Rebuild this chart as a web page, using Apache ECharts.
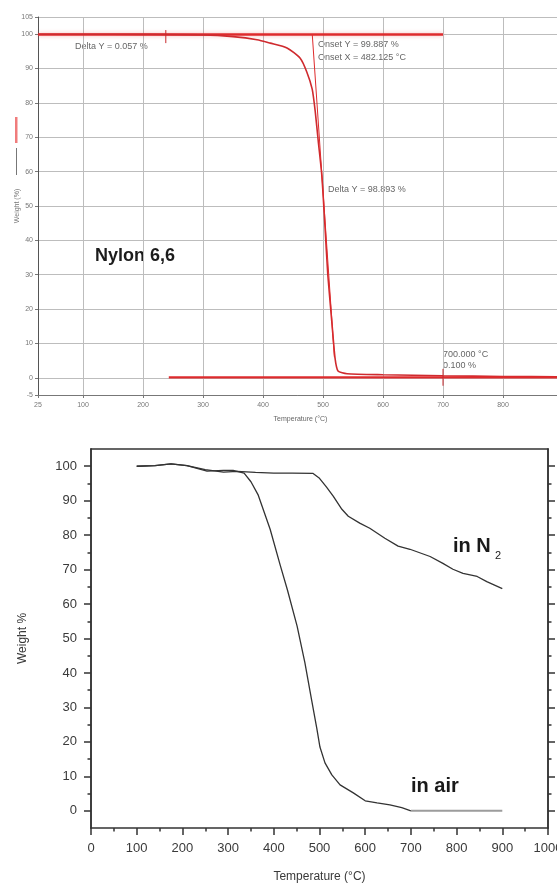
<!DOCTYPE html>
<html>
<head>
<meta charset="utf-8">
<script src="https://cdn.jsdelivr.net/npm/echarts@6/dist/echarts.min.js"></script>
<style>
  html, body { margin: 0; padding: 0; background: #fff; }
  #chart { width: 557px; height: 884px; }
</style>
</head>
<body>
<div id="chart"></div>
<script>
// ---- top panel : Nylon 6,6 TGA (red instrument plot)
const nylonTemp   = [25, 100, 200, 300, 350, 390, 412, 440, 462, 473, 482, 487, 492, 498, 503, 508, 515, 520, 525, 540, 600, 700, 800, 900];
const nylonWeight = [100, 100, 99.95, 99.8, 99.3, 98.4, 97.4, 96, 93, 89, 84, 77.6, 69, 59, 45, 30, 15.7, 5.8, 2, 1.2, 0.9, 0.6, 0.4, 0.3];
const baselineTemp = [25, 700];
const baselineWeight = [99.887, 99.887];
const tangentTemp = [482.125, 519];
const tangentWeight = [99.887, 6];
const residueTemp = [243, 900];
const residueWeight = [0.1, 0.1];
const markerTemp = [238, 700];
const markerLow = [97.4, -2.3];
const markerHigh = [101.2, 2.6];
const topXTicks = [25, 100, 200, 300, 400, 500, 600, 700, 800, 900];
const topYTicks = [-5, 0, 10, 20, 30, 40, 50, 60, 70, 80, 90, 100, 105];

// ---- bottom panel : in N2 / in air
const n2Temp   = [100, 140, 175, 210, 250, 290, 320, 360, 400, 440, 486, 500, 515, 530, 549, 563, 588, 610, 643, 672, 698, 742, 770, 792, 814, 845, 866, 900];
const n2Weight = [100, 100.2, 100.7, 100.2, 99, 98.3, 98.5, 98.2, 98, 98, 97.9, 96.5, 94, 91.3, 87.5, 85.5, 83.5, 82, 79.1, 76.8, 75.9, 73.8, 71.8, 70.1, 68.9, 68, 66.5, 64.5];
const airTemp   = [100, 140, 175, 210, 254, 290, 311, 335, 350, 366, 392, 414, 430, 451, 468, 483, 494, 501, 512, 527, 545, 574, 600, 626, 654, 680, 700, 800, 900];
const airWeight = [100, 100.2, 100.7, 100.2, 98.6, 98.8, 98.8, 98, 95.5, 91.6, 81.7, 71.3, 64, 53.6, 43, 32, 24, 18.5, 13.9, 10.4, 7.5, 5.2, 2.9, 2.3, 1.7, 0.9, 0, 0, 0];
const bottomYTicks = [0, 10, 20, 30, 40, 50, 60, 70, 80, 90, 100];
const bottomYMinor = [5, 15, 25, 35, 45, 55, 65, 75, 85, 95];

const FONT = '"Liberation Sans", Arial, sans-serif';
const zip = (xs, ys) => xs.map((x, i) => [x, ys[i]]);

const chart = echarts.init(document.getElementById('chart'));

const red = '#de2a2c';
const axisDark = '#333';

function bottomY(position, ticks, len, labels) {
  return {
    gridIndex: 1, type: 'value', position: position, min: -5, max: 105,
    axisLine: { show: true, onZero: false, lineStyle: { color: axisDark, width: 1.5 } },
    axisTick: { show: true, inside: false, customValues: ticks, length: len, lineStyle: { color: axisDark, width: 1.5 } },
    axisLabel: labels ? { customValues: ticks, fontSize: 13, color: '#3a3a3a', margin: 14, fontFamily: FONT } : { show: false },
    splitLine: { show: false }
  };
}

const option = {
  animation: false,
  backgroundColor: '#fff',
  grid: [
    { left: 38, top: 17, width: 525, height: 378, outerBoundsMode: 'none', containLabel: false },
    { left: 91, top: 449, width: 457, height: 379, outerBoundsMode: 'none', containLabel: false }
  ],
  xAxis: [
    {
      gridIndex: 0, type: 'value', min: 25, max: 900,
      axisLine: { onZero: false, lineStyle: { color: '#777', width: 1 } },
      axisTick: { show: true, customValues: topXTicks, length: 3, lineStyle: { color: '#777' } },
      axisLabel: { customValues: topXTicks, fontSize: 7, color: '#777', margin: 7, fontFamily: FONT },
      splitLine: { show: true, lineStyle: { color: '#bdbdbd', width: 1 } },
      name: 'Temperature (°C)', nameLocation: 'middle', nameGap: 21, nameMoveOverlap: false,
      nameTextStyle: { fontSize: 7, color: '#666', fontFamily: FONT }
    },
    {
      gridIndex: 1, type: 'value', position: 'bottom', min: 0, max: 1000, interval: 100,
      axisLine: { onZero: false, lineStyle: { color: axisDark, width: 1.5 } },
      axisTick: { length: 7, lineStyle: { color: axisDark, width: 1.5 } },
      minorTick: { show: true, splitNumber: 2, length: 3.5, lineStyle: { color: axisDark, width: 1.5 } },
      axisLabel: { fontSize: 13, color: '#3a3a3a', margin: 14, fontFamily: FONT, formatter: v => String(v) },
      splitLine: { show: false },
      name: 'Temperature (°C)', nameLocation: 'middle', nameGap: 43, nameMoveOverlap: false,
      nameTextStyle: { fontSize: 12, color: '#3a3a3a', fontFamily: FONT }
    },
    {
      gridIndex: 1, type: 'value', position: 'top', min: 0, max: 1000,
      axisLine: { onZero: false, lineStyle: { color: axisDark, width: 1.5 } },
      axisTick: { show: false }, axisLabel: { show: false }, splitLine: { show: false }
    }
  ],
  yAxis: [
    {
      gridIndex: 0, type: 'value', min: -5, max: 105,
      axisLine: { show: true, onZero: false, lineStyle: { color: '#555', width: 1 } },
      axisTick: { show: true, customValues: topYTicks, length: 3, lineStyle: { color: '#777' } },
      axisLabel: { customValues: topYTicks, fontSize: 7, color: '#777', margin: 5, fontFamily: FONT },
      splitLine: { show: true, lineStyle: { color: '#bdbdbd', width: 1 } },
      name: 'Weight (%)', nameLocation: 'middle', nameGap: 17, nameMoveOverlap: false,
      nameTextStyle: { fontSize: 7, color: '#777', fontFamily: FONT }
    },
    Object.assign(bottomY('left', bottomYTicks, 7, true), {
      name: 'Weight %', nameLocation: 'middle', nameGap: 62, nameMoveOverlap: false,
      nameTextStyle: { fontSize: 12, color: '#3a3a3a', fontFamily: FONT }
    }),
    bottomY('left', bottomYMinor, 3.5, false),
    bottomY('right', bottomYTicks, 7, false),
    bottomY('right', bottomYMinor, 3.5, false)
  ],
  series: [
    {
      name: 'baseline', type: 'line', xAxisIndex: 0, yAxisIndex: 0, symbol: 'none',
      data: zip(baselineTemp, baselineWeight),
      lineStyle: { color: red, width: 2.5, shadowColor: 'rgba(240,80,80,0.45)', shadowBlur: 4 }
    },
    {
      name: 'Nylon 6,6', type: 'line', xAxisIndex: 0, yAxisIndex: 0, symbol: 'none', smooth: 0.2,
      data: zip(nylonTemp, nylonWeight),
      lineStyle: { color: '#cf2a2e', width: 1.6 }
    },
    {
      name: 'tangent', type: 'line', xAxisIndex: 0, yAxisIndex: 0, symbol: 'none',
      data: zip(tangentTemp, tangentWeight),
      lineStyle: { color: red, width: 1 }
    },
    {
      name: 'residue', type: 'line', xAxisIndex: 0, yAxisIndex: 0, symbol: 'none',
      data: zip(residueTemp, residueWeight),
      lineStyle: { color: red, width: 2.2 }
    },
    ...markerTemp.map((t, i) => ({
      name: 'marker' + i, type: 'line', xAxisIndex: 0, yAxisIndex: 0, symbol: 'none',
      data: [[t, markerLow[i]], [t, markerHigh[i]]],
      lineStyle: { color: '#c8282c', width: 1 }
    })),
    {
      name: 'in N2', type: 'line', xAxisIndex: 1, yAxisIndex: 1, symbol: 'none',
      data: zip(n2Temp, n2Weight),
      lineStyle: { color: '#333', width: 1.3 }
    },
    {
      name: 'in air', type: 'line', xAxisIndex: 1, yAxisIndex: 1, symbol: 'none',
      data: zip(airTemp, airWeight).filter(p => p[0] <= 700),
      lineStyle: { color: '#333', width: 1.3 }
    },
    {
      name: 'in air tail', type: 'line', xAxisIndex: 1, yAxisIndex: 1, symbol: 'none',
      data: zip(airTemp, airWeight).filter(p => p[0] >= 700),
      lineStyle: { color: '#9c9c9c', width: 2.2 }
    }
  ],
  graphic: [
    // axis-title swatch on the top panel
    { type: 'rect', shape: { x: 15, y: 117, width: 2.5, height: 26 }, style: { fill: '#f07c7c' } },
    { type: 'line', shape: { x1: 16.5, y1: 148, x2: 16.5, y2: 175 }, style: { stroke: '#777', lineWidth: 1 } },
    { type: 'text', left: 95, top: 247, style: { text: 'Nylon 6,6', font: 'bold 18px ' + FONT, fill: '#1c1c1c' } },
    { type: 'text', left: 75, top: 42, style: { text: 'Delta Y = 0.057 %', font: '9px ' + FONT, fill: '#666' } },
    { type: 'text', left: 318, top: 40, style: { text: 'Onset Y = 99.887 %', font: '9px ' + FONT, fill: '#666' } },
    { type: 'text', left: 318, top: 53, style: { text: 'Onset X = 482.125 °C', font: '9px ' + FONT, fill: '#666' } },
    { type: 'text', left: 328, top: 185, style: { text: 'Delta Y = 98.893 %', font: '9px ' + FONT, fill: '#666' } },
    { type: 'text', left: 443, top: 350, style: { text: '700.000 °C', font: '9px ' + FONT, fill: '#666' } },
    { type: 'text', left: 443, top: 361, style: { text: '0.100 %', font: '9px ' + FONT, fill: '#666' } },
    { type: 'text', left: 453, top: 536, style: { text: 'in N', font: 'bold 20px ' + FONT, fill: '#1a1a1a' } },
    { type: 'text', left: 495, top: 550, style: { text: '2', font: '11px ' + FONT, fill: '#1a1a1a' } },
    { type: 'text', left: 411, top: 776, style: { text: 'in air', font: 'bold 20px ' + FONT, fill: '#1a1a1a' } }
  ]
};

chart.setOption(option);
</script>
</body>
</html>
